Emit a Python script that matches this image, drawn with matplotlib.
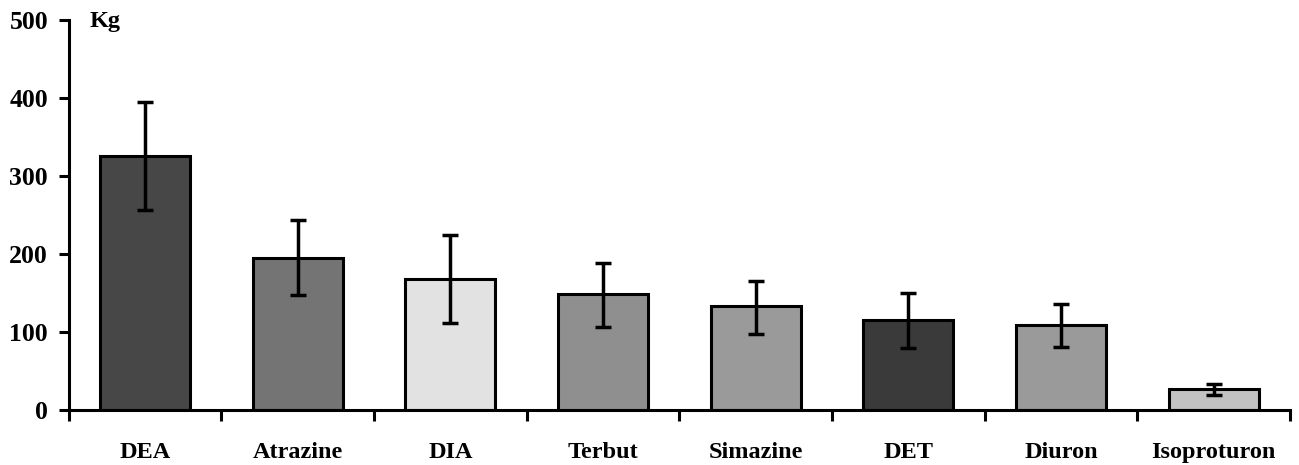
import numpy as np
import matplotlib
matplotlib.use("Agg")
import matplotlib.pyplot as plt

plt.rcParams["font.family"] = ["Liberation Serif", "DejaVu Serif"]
plt.rcParams["font.weight"] = "bold"

names = ["DEA", "Atrazine", "DIA", "Terbut", "Simazine", "DET", "Diuron", "Isoproturon"]
values = [326, 195, 168, 149, 133, 116, 109, 27]
err_low = [256, 147, 112, 107, 98, 80, 81, 19]
err_high = [395, 244, 225, 189, 166, 150, 136, 33]
colors = ["#474747", "#747474", "#e2e2e2", "#8f8f8f", "#9a9a9a", "#3a3a3a", "#9a9a9a", "#c2c2c2"]

fig = plt.figure(figsize=(12.99, 4.65), dpi=100)
ax = fig.add_axes([0.053, 0.118, 0.940, 0.839])

x = np.arange(len(names))
yerr = [np.array(values) - np.array(err_low), np.array(err_high) - np.array(values)]
ax.bar(x, values, width=0.59, color=colors, edgecolor="black", linewidth=2.2, zorder=2)
ax.errorbar(x, values, yerr=yerr, fmt="none", ecolor="black", elinewidth=2.5,
            capsize=6, capthick=2.5, zorder=3)

ax.set_xlim(-0.5, len(names) - 0.5)
ax.set_ylim(0, 500)
ax.set_yticks([0, 100, 200, 300, 400, 500])
ax.set_xticks(np.arange(-0.5, len(names)))
ax.set_xticklabels([])
ax.minorticks_off()
for i, n in enumerate(names):
    ax.text(i, -0.082, n, transform=ax.get_xaxis_transform(), ha="center", va="top",
            fontsize=17.5, fontweight="bold")

ax.tick_params(axis="y", labelsize=18.5, width=2.2, length=7, direction="out", pad=8)
ax.tick_params(axis="x", width=2.2, length=8, direction="out")
for s in ["top", "right"]:
    ax.spines[s].set_visible(False)
for s in ["left", "bottom"]:
    ax.spines[s].set_linewidth(2.2)
for lab in ax.get_yticklabels():
    lab.set_fontweight("bold")

ax.text(0.017, 0.995, "Kg", transform=ax.transAxes, ha="left", va="center",
        fontsize=17.5, fontweight="bold")

fig.savefig("out.png", dpi=100)
